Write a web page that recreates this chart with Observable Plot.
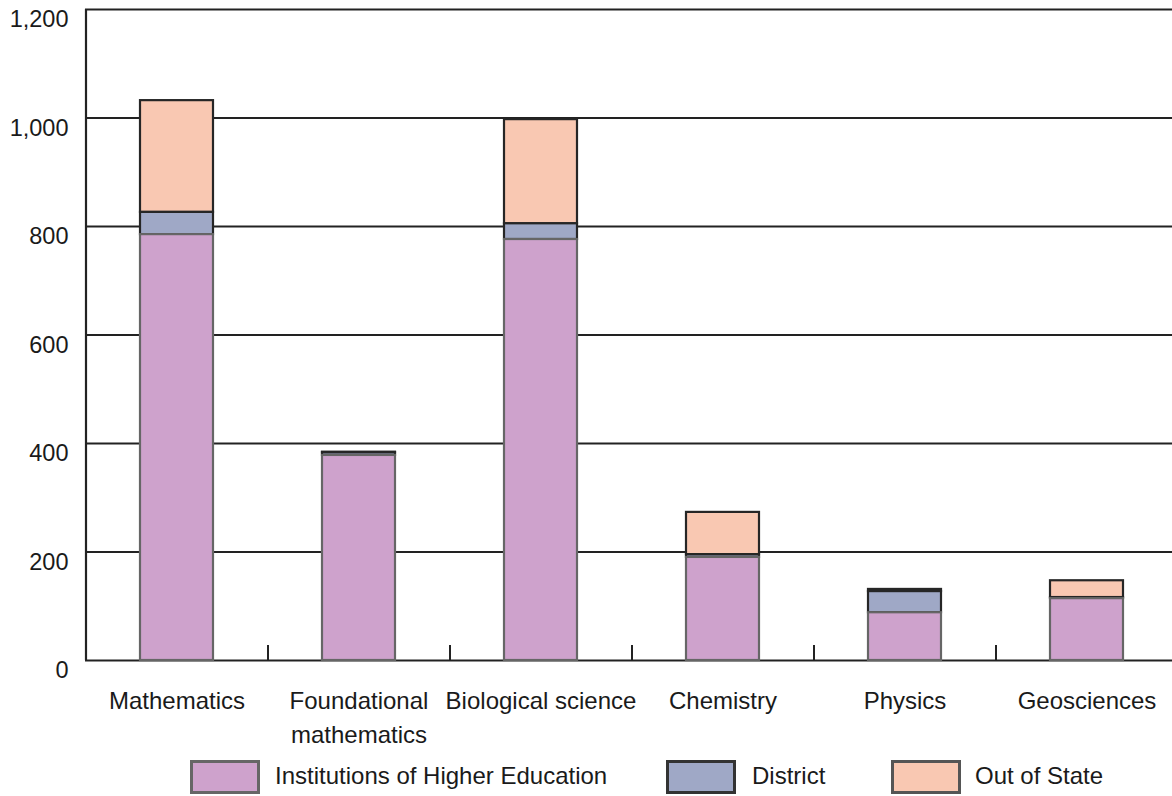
<!DOCTYPE html>
<html>
<head>
<meta charset="utf-8">
<script src="https://cdn.jsdelivr.net/npm/d3@7"></script>
<script src="https://cdn.jsdelivr.net/npm/@observablehq/plot@0.6"></script>
<style>
  html, body { margin: 0; padding: 0; background: #fff; }
  body { width: 1172px; height: 796px; overflow: hidden; font-family: "Liberation Sans", Arial, sans-serif; color: #1a1a1a; }
  #legend { position: relative; height: 41px; font-size: 24px; }
  .sw { position: absolute; top: 5px; width: 64px; height: 28px; border: 3px solid #333; box-sizing: content-box; }
  .lb { position: absolute; top: 6px; line-height: 30px; }
</style>
</head>
<body>
<div id="chart"></div>
<div id="legend"></div>
<script>
const categories = ["Mathematics", "Foundational mathematics", "Biological science", "Chemistry", "Physics", "Geosciences"];
const categoryLabels = ["Mathematics", "Foundational\nmathematics", "Biological science", "Chemistry", "Physics", "Geosciences"];
const seriesNames = ["Institutions of Higher Education", "District", "Out of State"];
const ihe = [785, 378, 776, 190, 88, 114];
const district = [41, 5, 29, 5, 39, 2];
const outOfState = [206, 1, 192, 78, 4, 31];
const yTicks = [0, 200, 400, 600, 800, 1000, 1200];
const fills = ["#cea2cc", "#9fa8c6", "#f9c8b2"];
const strokes = ["#666666", "#262626", "#262626"];

const W = 1172, H = 755, ML = 85, MR = -5, MT = 9, MB = 95;
const step = (W - ML - MR) / categories.length;

// draw order: Out of State, District, IHE (so IHE's gray outline sits on top)
const rows = [];
[[2, outOfState], [1, district], [0, ihe]].forEach(([si, arr]) => {
  categories.forEach((c, i) => rows.push({category: c, series: seriesNames[si], value: arr[i]}));
});

const FONT = "'Liberation Sans', Arial, sans-serif";

const chart = Plot.plot({
  width: W,
  height: H,
  marginLeft: ML,
  marginRight: MR,
  marginTop: MT,
  marginBottom: MB,
  style: {fontFamily: FONT, color: "#1a1a1a", background: "#fff", overflow: "hidden"},
  x: {domain: categories, paddingInner: 0.6, paddingOuter: 0.3, align: 0.5, label: null},
  y: {domain: [0, 1200], label: null},
  color: {domain: seriesNames, range: fills},
  marks: [
    Plot.ruleY(yTicks, {stroke: "#222", strokeWidth: 2}),
    Plot.ruleX([0], {x: () => categories[0], dx: -step / 2, stroke: "#222", strokeWidth: 2.2}),
    Plot.ruleX(categories.slice(1), {x: d => d, dx: -step / 2, stroke: "#222", strokeWidth: 2, insetTop: 636}),
    Plot.barY(rows, Plot.stackY({
      x: "category",
      y: "value",
      z: "series",
      order: seriesNames,
      fill: "series",
      stroke: d => strokes[seriesNames.indexOf(d.series)],
      strokeWidth: 2.2
    })),
    Plot.axisY({
      ticks: yTicks,
      tickFormat: d3.format(","),
      tickSize: 0,
      tickPadding: 17,
      dy: 10,
      fontSize: 23.5,
      fill: "#1a1a1a"
    }),
    Plot.axisX({
      tickSize: 0,
      tickPadding: 24,
      fontSize: 24,
      lineHeight: 1.42,
      fill: "#1a1a1a",
      tickFormat: d => categoryLabels[categories.indexOf(d)]
    })
  ]
});
document.getElementById("chart").appendChild(chart);

// legend
const legend = document.getElementById("legend");
const swLeft = [190, 666, 891];
const lbLeft = [275, 752, 975];
const swBorder = ["#666666", "#333333", "#555555"];
seriesNames.forEach((name, i) => {
  const sw = document.createElement("div");
  sw.className = "sw";
  sw.style.left = swLeft[i] + "px";
  sw.style.background = fills[i];
  sw.style.borderColor = swBorder[i];
  legend.appendChild(sw);
  const lb = document.createElement("div");
  lb.className = "lb";
  lb.style.left = lbLeft[i] + "px";
  lb.textContent = name;
  legend.appendChild(lb);
});
</script>
</body>
</html>
